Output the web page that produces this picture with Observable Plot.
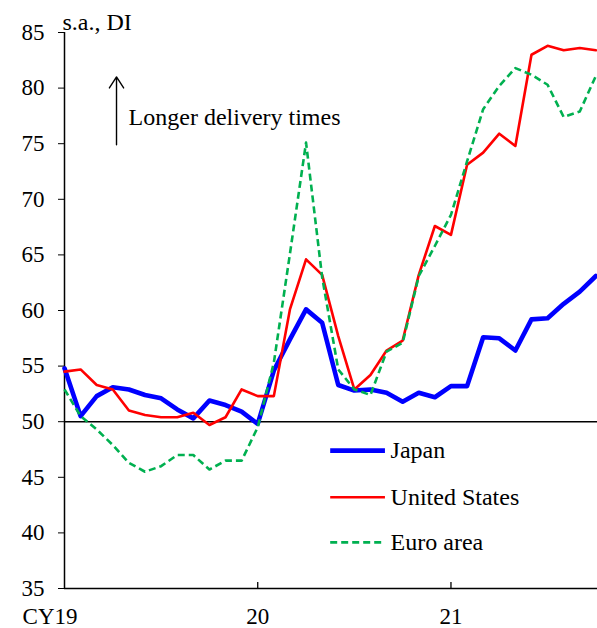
<!DOCTYPE html>
<html><head><meta charset="utf-8">
<script src="https://cdn.jsdelivr.net/npm/d3@7"></script>
<script src="https://cdn.jsdelivr.net/npm/@observablehq/plot@0.6"></script>
<style>body{margin:0;background:#fff}</style>
</head><body><div id="chart"></div>
<script>
// month index 0 = Jan 2019 ... 33 = Oct 2021
const monthIndex = [0,1,2,3,4,5,6,7,8,9,10,11,12,13,14,15,16,17,18,19,20,21,22,23,24,25,26,27,28,29,30,31,32,33];
const japan = [54.8, 50.5, 52.3, 53.1, 52.9, 52.4, 52.1, 51.1, 50.3, 51.9, 51.5, 50.9, 49.8,
               54.6, 57.4, 60.1, 58.9, 53.3, 52.8, 52.9, 52.6, 51.8, 52.6, 52.2, 53.2, 53.2,
               57.6, 57.5, 56.4, 59.2, 59.3, 60.6, 61.7, 63.1];
const unitedStates = [54.5, 54.7, 53.3, 52.9, 51.0, 50.6, 50.4, 50.4, 50.8, 49.7, 50.4, 52.9, 52.3,
               52.3, 60.1, 64.6, 63.2, 57.7, 52.9, 54.2, 56.4, 57.3, 63.2, 67.6, 66.8, 73.1,
               74.2, 75.9, 74.8, 83.0, 83.8, 83.4, 83.6, 83.4];
const euroArea = [52.9, 50.5, 49.3, 47.9, 46.3, 45.5, 46.0, 47.0, 47.0, 45.7, 46.5, 46.5, 49.5,
               55.3, 65.1, 75.1, 63.0, 54.7, 52.9, 52.4, 56.3, 57.1, 63.1, 65.8, 68.6, 73.4,
               78.1, 80.2, 81.8, 81.2, 80.3, 77.4, 77.9, 81.1];
const yTicks = [35, 40, 45, 50, 55, 60, 65, 70, 75, 80, 85];
const xTickPos = [12, 24];
const xTickLabels = ["20", "21"];
const firstLabel = "CY19";
const seriesNames = ["Japan", "United States", "Euro area"];
const seriesColors = ["#0000FF", "#FF0000", "#00B050"];
const legendY = [47.4, 43.2, 39.15];

const FONT = "Liberation Serif, Tinos, Times New Roman, DejaVu Serif, serif";
const rows = (vals) => monthIndex.map((m, i) => ({m, v: vals[i]}));
const legendRows = seriesNames.map((name, i) => ({name, y: legendY[i], color: seriesColors[i]}));

const chart = Plot.plot({
  width: 597, height: 628,
  marginLeft: 64, marginRight: 0, marginTop: 32, marginBottom: 40,
  style: {fontFamily: FONT, fontSize: "23px", color: "#000", background: "#fff"},
  x: {domain: [0, 33.1], label: null},
  y: {domain: [35, 85], label: null},
  marks: [
    Plot.axisY({ticks: yTicks, tickSize: 6, tickPadding: 14, tickFormat: d => String(d), fontSize: 23, fontFamily: FONT, label: null}),
    Plot.axisX({ticks: xTickPos, tickSize: 0, tickPadding: 19, tickFormat: (d, i) => xTickLabels[i], fontSize: 23, fontFamily: FONT, label: null}),
    Plot.text([firstLabel], {x: 0, y: 35, text: d => d, textAnchor: "end", lineAnchor: "top", dx: 13, dy: 19, fontSize: 23, fontFamily: FONT}),
    Plot.ruleX(xTickPos, {y1: 35, y2: 35.55, stroke: "#000", strokeWidth: 1.3}),
    Plot.ruleY([50], {stroke: "#000", strokeWidth: 1.5}),
    Plot.ruleY([35], {stroke: "#000", strokeWidth: 1.5}),
    Plot.ruleX([0], {stroke: "#000", strokeWidth: 1.5}),
    Plot.line(rows(japan), {x: "m", y: "v", stroke: seriesColors[0], strokeWidth: 4.6, strokeLinejoin: "round"}),
    Plot.line(rows(unitedStates), {x: "m", y: "v", stroke: seriesColors[1], strokeWidth: 2.6, strokeLinejoin: "round"}),
    Plot.line(rows(euroArea), {x: "m", y: "v", stroke: seriesColors[2], strokeWidth: 2.6, strokeDasharray: "7,4", strokeLinecap: "butt"}),
    // legend
    Plot.link(legendRows.slice(0, 1), {x1: 16.5, x2: 19.9, y1: "y", y2: "y", stroke: "color", strokeWidth: 4.6}),
    Plot.link(legendRows.slice(1, 2), {x1: 16.5, x2: 19.9, y1: "y", y2: "y", stroke: "color", strokeWidth: 2.6}),
    Plot.link(legendRows.slice(2, 3), {x1: 16.5, x2: 19.9, y1: "y", y2: "y", stroke: "color", strokeWidth: 2.6, strokeDasharray: "7,4", strokeLinecap: "butt"}),
    Plot.text(legendRows, {x: 20.25, y: "y", text: "name", textAnchor: "start", fontSize: 24, fontFamily: FONT}),
    // annotation
    Plot.arrow([0], {x1: 3.23, x2: 3.23, y1: 74.9, y2: 81.0, stroke: "#000", strokeWidth: 1.4, headLength: 14, headAngle: 66}),
    Plot.text(["Longer delivery times"], {x: 3.98, y: 77.4, text: d => d, textAnchor: "start", fontSize: 24, fontFamily: FONT}),
    Plot.text(["s.a., DI"], {x: 0, y: 85, text: d => d, textAnchor: "start", lineAnchor: "bottom", dx: -2, dy: -3, fontSize: 24, fontFamily: FONT})
  ]
});
document.getElementById("chart").appendChild(chart);
</script></body></html>
